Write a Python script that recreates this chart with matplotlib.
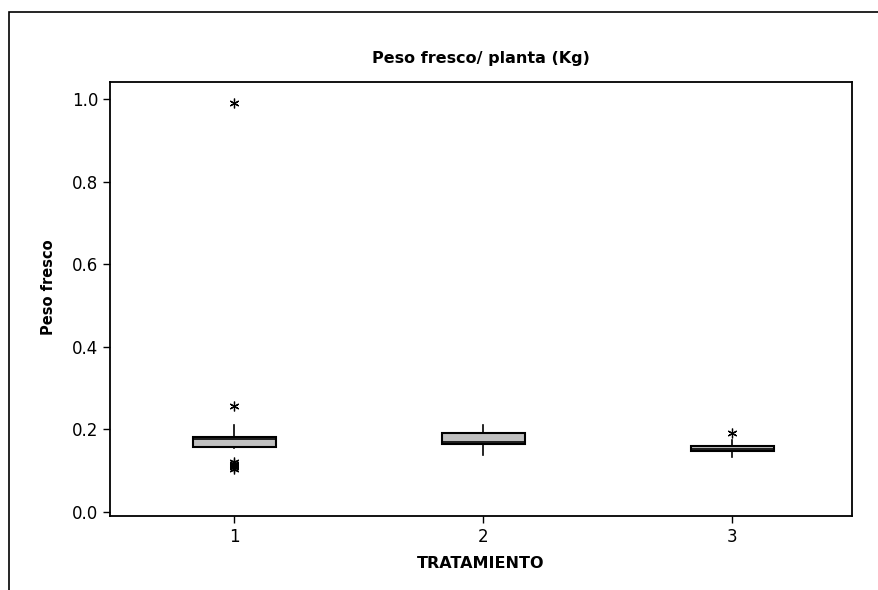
import matplotlib.pyplot as plt
from matplotlib.patches import Rectangle

# box statistics (Peso fresco, kg)
tratamientos = [1, 2, 3]
q1 = [0.158, 0.164, 0.148]
medianas = [0.177, 0.170, 0.152]
q3 = [0.182, 0.190, 0.160]
bigote_inf = [0.155, 0.138, 0.134]
bigote_sup = [0.211, 0.211, 0.174]
atipicos = [
    [0.99, 0.257, 0.104, 0.108, 0.111, 0.114, 0.117, 0.120],
    [],
    [0.191],
]

stats = []
for i, t in enumerate(tratamientos):
    stats.append({
        "label": str(t),
        "q1": q1[i],
        "med": medianas[i],
        "q3": q3[i],
        "whislo": bigote_inf[i],
        "whishi": bigote_sup[i],
        "fliers": atipicos[i],
    })

fig = plt.figure(figsize=(8.79, 5.9), dpi=100)
ax = fig.add_axes([110 / 879, 1 - 516 / 590, (852 - 110) / 879, (516 - 82) / 590])

# outer frame of the graph window
fig.patches.append(Rectangle((9 / 879, -0.1), 1.2, 1 - 12 / 590 + 0.1,
                             transform=fig.transFigure, fill=False,
                             edgecolor="black", linewidth=1.2))

ax.bxp(stats, positions=tratamientos, widths=0.33, patch_artist=True,
       showcaps=False,
       boxprops=dict(facecolor="#c0c0c0", edgecolor="black", linewidth=1.5),
       medianprops=dict(color="black", linewidth=1.2),
       whiskerprops=dict(color="black", linewidth=1.2),
       flierprops=dict(marker=(6, 2, 0), markersize=7, markeredgecolor="black",
                       markeredgewidth=0.9, linestyle="none"))

ax.set_xlim(0.5, 3.48)
ax.set_ylim(-0.01, 1.041)
ax.set_yticks([0.0, 0.2, 0.4, 0.6, 0.8, 1.0])
ax.set_yticklabels(["0.0", "0.2", "0.4", "0.6", "0.8", "1.0"])
ax.set_xticks(tratamientos)
ax.set_xticklabels(["1", "2", "3"])
ax.tick_params(axis="both", direction="out", length=5, width=1, labelsize=12)

for s in ax.spines.values():
    s.set_linewidth(1.3)

ax.set_title("Peso fresco/ planta (Kg)", fontsize=11.5, fontweight="bold", pad=14)
ax.set_ylabel("Peso fresco", fontsize=10.5, fontweight="bold")
ax.yaxis.set_label_coords(-0.073, 0.528)
ax.set_xlabel("TRATAMIENTO", fontsize=11.5, fontweight="bold", labelpad=7)

fig.savefig("out.png", dpi=100)
